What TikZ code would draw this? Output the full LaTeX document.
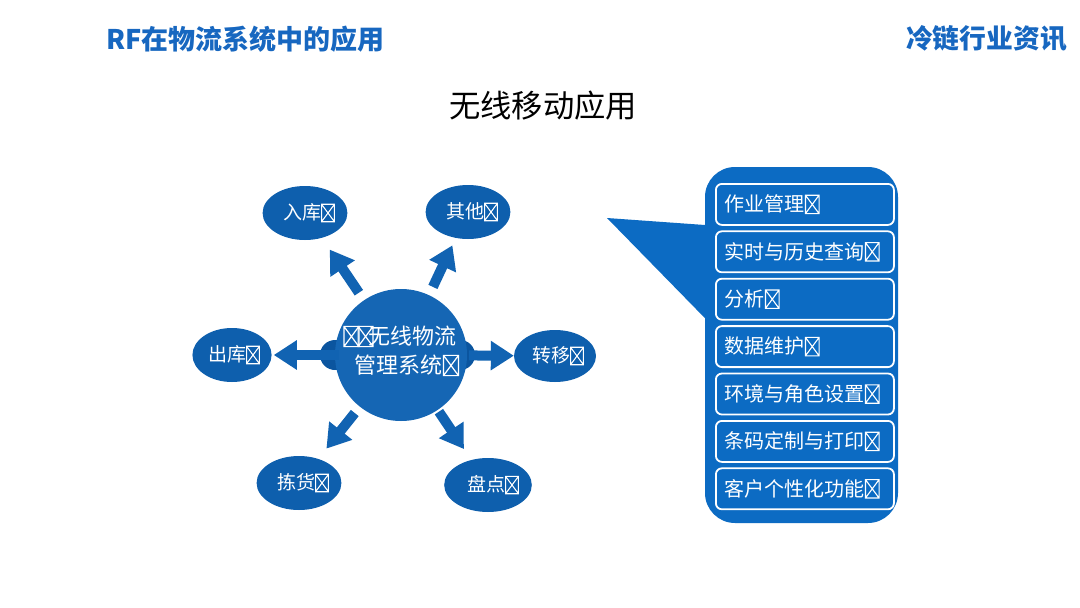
\documentclass[tikz,border=0pt]{standalone}
\usepackage{fontspec}
\usetikzlibrary{arrows.meta,shapes.geometric}
\setmainfont{Noto Sans CJK SC}
\newcommand{\tofu}{\tikz[x=1em,y=1em,baseline=0pt]{\draw[white,line width=0.055em,sharp corners,solid] (0.04,-0.1) rectangle (0.72,0.82) (0.04,-0.1)--(0.72,0.82) (0.72,-0.1)--(0.04,0.82);}}
\definecolor{titleblue}{HTML}{1767C0}
\definecolor{panelblue}{HTML}{0C6BC3}
\definecolor{circblue}{HTML}{1566B4}
\definecolor{ellblue}{HTML}{0E5FAD}
\definecolor{arrblue}{HTML}{1163B2}
\definecolor{bulbblue}{HTML}{0B559F}
\tikzset{
  sat/.style={ellipse, fill=ellblue, text=white, inner sep=0pt, minimum width=71pt, minimum height=54pt, font=\fontsize{19}{21}\selectfont},
  bigarrow/.style={draw=arrblue, line width=10pt, -{Triangle[length=23pt,width=28pt]}},
  rowbox/.style={draw=white, line width=1.8pt, rounded corners=6pt, anchor=north west, minimum height=41pt, text width=160pt, inner xsep=9pt, inner ysep=0pt, align=left, text=white, font=\fontsize{20}{22}\selectfont},
}
\begin{document}
\begin{tikzpicture}[x=1pt,y=-1pt]
\useasboundingbox[fill=white] (0,0) rectangle (1080,608);
% headers
\node[anchor=west, text=titleblue, font=\fontsize{27}{29}\selectfont\bfseries, inner sep=0pt] (title) at (106,39) {RF在物流系统中的应用};
\node[anchor=east, text=titleblue, font=\fontsize{26.8}{29}\selectfont\bfseries, inner sep=0pt] (brand) at (1067,39) {冷链行业资讯};
\node[text=black, font=\fontsize{31.3}{33}\selectfont, inner sep=0pt] (sub) at (543,106) {无线移动应用};
% bulbs behind circle
\fill[bulbblue] (335,355) circle (15);
\fill[bulbblue] (460,355) circle (15);
% central circle
\node[circle, fill=circblue, minimum size=132pt, inner sep=0pt] (c) at (401,355) {};
\node[text=white, font=\fontsize{22}{29}\selectfont, align=center, inner sep=0pt] (ctext) at (400,351) {\tofu\hspace{-2pt}\tofu\hspace{-5pt}无线物流\\\hspace{14pt}管理系统\tofu};
% satellites
\node[sat] (in) at (305,213) {\hspace{8pt}入库\tofu};
\node[sat] (other) at (468,212) {\hspace{8pt}其他\tofu};
\node[sat] (out) at (232,355) {\hspace{4pt}出库\tofu};
\node[sat, minimum height=52pt, minimum width=74pt] (move) at (555,356) {\hspace{6pt}转移\tofu};
\node[sat] (pick) at (299,483) {\hspace{8pt}拣货\tofu};
\node[sat] (count) at (488,485) {\hspace{10pt}盘点\tofu};
% arrows
\draw[bigarrow, shorten <=9pt, shorten >=14pt] (c) -- (in);
\draw[bigarrow, shorten <=9pt, shorten >=8pt] (c) -- (other);
\draw[bigarrow, shorten <=-4pt, shorten >=2pt] (c) -- (out);
\draw[bigarrow, shorten <=2pt, shorten >=0pt] (c) -- (move);
\draw[bigarrow, shorten <=8pt, shorten >=13pt] (c) -- (pick);
\draw[bigarrow, shorten <=2pt, shorten >=13pt] (c) -- (count);
% callout panel
\node[fill=panelblue, rounded corners=30pt, minimum width=193pt, minimum height=356pt, inner sep=0pt] (panel) at (801.5,345) {};
\coordinate (tip) at (607,218);
\fill[panelblue] (tip) -- (panel.west |- 0,225) -- (panel.west |- 0,318) -- cycle;
% rows
\node[rowbox] (r1) at (715,183.0) {作业管理\tofu};
\node[rowbox] (r2) at (715,230.4) {实时与历史查询\tofu};
\node[rowbox] (r3) at (715,277.8) {分析\tofu};
\node[rowbox] (r4) at (715,325.2) {数据维护\tofu};
\node[rowbox] (r5) at (715,372.6) {环境与角色设置\tofu};
\node[rowbox] (r6) at (715,420.0) {条码定制与打印\tofu};
\node[rowbox] (r7) at (715,467.4) {客户个性化功能\tofu};
\end{tikzpicture}
\end{document}
